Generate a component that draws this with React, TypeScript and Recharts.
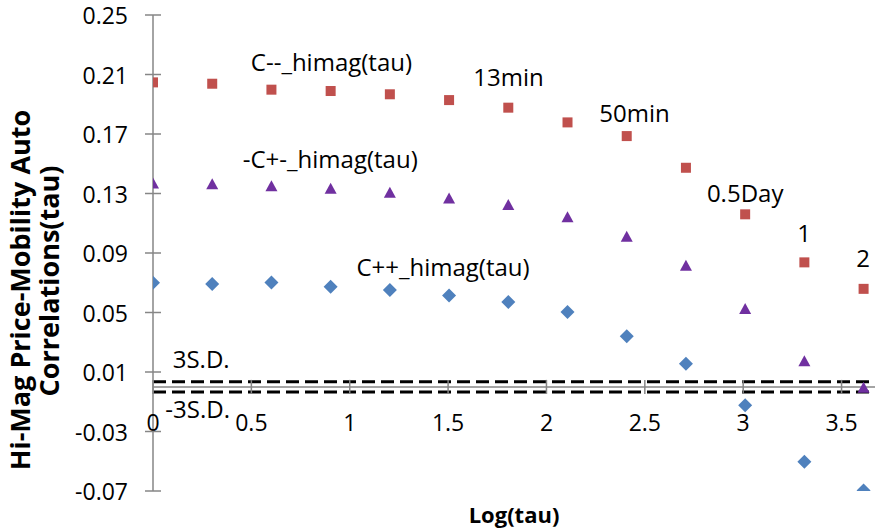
import React from 'react';
import { ScatterChart, Scatter, XAxis, YAxis, ReferenceLine, ReferenceDot } from 'recharts';

// ---- data ----
const logTau = [0, 0.301, 0.602, 0.903, 1.204, 1.505, 1.806, 2.107, 2.408, 2.709, 3.01, 3.311, 3.612];
const cMinusMinus = [0.2047, 0.2038, 0.1998, 0.1989, 0.1967, 0.1928, 0.1877, 0.1778, 0.1686, 0.1473, 0.116, 0.0837, 0.0659];
const negCPlusMinus = [0.1368, 0.1363, 0.1348, 0.1332, 0.1305, 0.1267, 0.1222, 0.114, 0.1009, 0.0814, 0.0523, 0.0173, -0.0006];
const cPlusPlus = [0.07, 0.0691, 0.0702, 0.0673, 0.0651, 0.0615, 0.057, 0.0503, 0.0341, 0.0155, -0.0123, -0.0504, -0.0696];
const threeSD = 0.0034;
const yTicks = [-0.07, -0.03, 0.01, 0.05, 0.09, 0.13, 0.17, 0.21, 0.25];
const xTicks = [0, 0.5, 1, 1.5, 2, 2.5, 3, 3.5];
const annotations = [
  { text: 'C--_himag(tau)', x: 0.907, y: 0.2184 },
  { text: '13min', x: 1.807, y: 0.2083 },
  { text: '50min', x: 2.448, y: 0.1841 },
  { text: '-C+-_himag(tau)', x: 0.901, y: 0.1532 },
  { text: '0.5Day', x: 3.01, y: 0.1303 },
  { text: '1', x: 3.31, y: 0.1034 },
  { text: 'C++_himag(tau)', x: 1.474, y: 0.0806 },
  { text: '2', x: 3.61, y: 0.0866 },
  { text: '3S.D.', x: 0.245, y: 0.0181 },
  { text: '-3S.D.', x: 0.227, y: -0.0155 },
];

const toPoints = (vals: number[]) => logTau.map((x, i) => ({ x, y: vals[i] }));
const redData = toPoints(cMinusMinus);
const purpleData = toPoints(negCPlusMinus);
const blueData = toPoints(cPlusPlus);

// ---- layout ----
const W = 875;
const H = 531;
const MARGIN_TOP = 15;
const Y_AXIS_W = 153;
const X_AXIS_H = 40;
const PLOT_H = H - MARGIN_TOP - X_AXIS_H;
const Y_MIN = -0.07;
const Y_MAX = 0.25;
const X_MAX = 3.67;
const Y0 = MARGIN_TOP + ((Y_MAX - 0) / (Y_MAX - Y_MIN)) * PLOT_H;

const FONT = '"Open Sans", sans-serif';
const AXIS = '#868686';
const TICK_FS = 23;
const ANN_FS = 24;

const XTick = (props: any) => {
  const { x, payload } = props;
  return (
    <g>
      <line x1={x} x2={x} y1={Y0 - 7} y2={Y0 + 7} stroke={AXIS} strokeWidth={1.5} />
      <text x={x} y={Y0 + 35} textAnchor="middle" dominantBaseline="central" fontSize={TICK_FS} fontFamily={FONT} fill="#000">
        {String(payload.value)}
      </text>
    </g>
  );
};

const YTick = (props: any) => {
  const { x, y, payload } = props;
  return (
    <g>
      <line x1={x + 17} x2={x + 33} y1={y} y2={y} stroke={AXIS} strokeWidth={1.5} />
      <text x={x} y={y} textAnchor="end" dominantBaseline="central" fontSize={TICK_FS} fontFamily={FONT} fill="#000">
        {Number(payload.value).toFixed(2)}
      </text>
    </g>
  );
};

const YLabel = (props: any) => {
  const vb = props.viewBox || { x: 0, y: MARGIN_TOP, width: Y_AXIS_W, height: PLOT_H };
  const cy = vb.y + vb.height / 2;
  const l1y = cy + 37;
  const l2y = cy + 28;
  return (
    <g>
      <text x={19} y={l1y} transform={`rotate(-90 19 ${l1y})`} textAnchor="middle" dominantBaseline="central"
        fontSize={27} fontWeight="bold" fontFamily={FONT} fill="#000">
        Hi-Mag Price-Mobility Auto
      </text>
      <text x={48} y={l2y} transform={`rotate(-90 48 ${l2y})`} textAnchor="middle" dominantBaseline="central"
        fontSize={27} fontWeight="bold" fontFamily={FONT} fill="#000">
        Correlations(tau)
      </text>
    </g>
  );
};

const Square = (p: any) => <rect x={p.cx - 5} y={p.cy - 5} width={10} height={10} fill="#C0504D" />;
const Triangle = (p: any) => (
  <polygon points={`${p.cx},${p.cy - 6} ${p.cx - 6},${p.cy + 5} ${p.cx + 6},${p.cy + 5}`} fill="#7030A0" />
);
const Diamond = (p: any) => (
  <polygon points={`${p.cx},${p.cy - 7} ${p.cx + 7},${p.cy} ${p.cx},${p.cy + 7} ${p.cx - 7},${p.cy}`} fill="#4F81BD" />
);

export default function App() {
  return (
    <div style={{ position: 'absolute', left: 0, top: 0, width: W, height: H, background: '#fff' }}>
      <ScatterChart width={W} height={H} margin={{ top: MARGIN_TOP, right: 0, bottom: 0, left: 0 }}>
        <XAxis
          type="number"
          dataKey="x"
          domain={[0, X_MAX]}
          ticks={xTicks}
          allowDataOverflow
          height={X_AXIS_H}
          axisLine={false}
          tickLine={false}
          tick={<XTick />}
          label={{ value: 'Log(tau)', position: 'insideBottom', offset: 8, fontSize: 22, fontWeight: 'bold', fontFamily: FONT, fill: '#000' }}
        />
        <YAxis
          type="number"
          dataKey="y"
          domain={[Y_MIN, Y_MAX]}
          ticks={yTicks}
          allowDataOverflow
          width={Y_AXIS_W}
          axisLine={{ stroke: AXIS, strokeWidth: 1.5 }}
          tickLine={false}
          tickSize={0}
          tickMargin={25}
          tick={<YTick />}
          label={{ content: <YLabel /> }}
        />
        <ReferenceLine y={0} stroke={AXIS} strokeWidth={1.5} />
        <ReferenceLine y={threeSD} stroke="#000" strokeWidth={3} strokeDasharray="13 6" />
        <ReferenceLine y={-threeSD} stroke="#000" strokeWidth={3} strokeDasharray="13 6" />
        <Scatter data={blueData} shape={<Diamond />} isAnimationActive={false} />
        <Scatter data={purpleData} shape={<Triangle />} isAnimationActive={false} />
        <Scatter data={redData} shape={<Square />} isAnimationActive={false} />
        {annotations.map((a) => (
          <ReferenceDot
            key={a.text}
            x={a.x}
            y={a.y}
            r={0}
            fill="none"
            stroke="none"
            ifOverflow="visible"
            label={{ value: a.text, position: 'center', fontSize: ANN_FS, fontFamily: FONT, fill: '#000' }}
          />
        ))}
      </ScatterChart>
    </div>
  );
}
